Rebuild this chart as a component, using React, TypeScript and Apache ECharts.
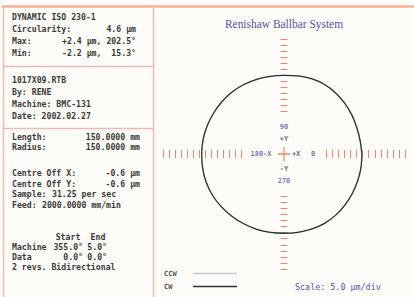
import React, { useEffect, useRef } from 'react';
import * as echarts from 'echarts';

// ---- data ----
const ANGLES = [0, 10, 20, 30, 40, 50, 60, 70, 80, 90, 100, 110, 120, 130, 140, 150, 160, 170, 180, 190, 200, 210, 220, 230, 240, 250, 260, 270, 280, 290, 300, 310, 320, 330, 340, 350, 360];
const CW_DEV = [-1.6, -2.1, -2.0, -1.3, -0.6, 0.1, 0.5, 0.2, -0.5, -1.0, -0.8, -0.3, 0.3, 0.8, 1.1, 1.3, 1.6, 1.9, 2.0, 2.2, 2.4, 2.2, 1.7, 1.1, 0.6, 0.2, -0.2, -0.5, -0.3, 0.1, 0.4, 0.2, -0.3, -0.8, -1.2, -1.4, -1.6];
const CCW_DEV = [-1.4, -1.9, -1.9, -1.2, -0.5, 0.0, 0.4, 0.3, -0.3, -0.9, -0.8, -0.2, 0.4, 0.7, 1.0, 1.2, 1.5, 1.8, 2.1, 2.1, 2.3, 2.1, 1.6, 1.0, 0.5, 0.1, -0.3, -0.4, -0.2, 0.2, 0.3, 0.1, -0.4, -0.9, -1.1, -1.3, -1.4];

const X_TICKS = [-20, -19, -18, -17, -16, -15, -14, -13, -12, -11, -10, -9, -8, -7, 7, 8, 9, 10, 11, 12, 13, 14, 15, 16, 17, 18, 19, 20];
const Y_TICKS = [-19, -18, -17, -16, -15, -14, -13, -12, -11, -10, -9, -8, -7, 7, 8, 9, 10, 11, 12, 13, 14, 15, 16, 17, 18, 19];

const AXIS_MARKS = [
  { text: '90', x: 0, y: 4.5, kind: 'deg' },
  { text: '+Y', x: 0, y: 2.5, kind: 'dir' },
  { text: '-Y', x: 0, y: -2.5, kind: 'dir' },
  { text: '270', x: 0, y: -4.4, kind: 'deg' },
  { text: '180-X', x: -3.8, y: 0, kind: 'deg' },
  { text: '+X', x: 2.0, y: 0, kind: 'dir' },
  { text: '0', x: 4.8, y: 0, kind: 'deg' },
];

const TITLE = 'Renishaw Ballbar System';
const SCALE_TEXT = 'Scale: 5.0 µm/div';
const SERIES_NAMES = ['CCW', 'CW'];

const SUMMARY_ROWS = [
  ['DYNAMIC ISO 230-1', ''],
  ['Circularity:', '4.6 µm'],
  ['Max:', '+2.4 µm, 202.5°'],
  ['Min:', '-2.2 µm,  15.3°'],
];
const FILE_ROWS = ['1017X09.RTB', 'By: RENE', 'Machine: BMC-131', 'Date: 2002.02.27'];
const SETUP_ROWS = [
  ['Length:', '150.0000 mm'],
  ['Radius:', '150.0000 mm'],
  ['Centre Off X:', '-0.6 µm'],
  ['Centre Off Y:', '-0.6 µm'],
];
const RUN_ROWS = [
  ['Sample:', '31.25 per sec'],
  ['Feed:', '2000.0000 mm/min'],
];
const ROTATION_HEAD = ['Start', 'End'];
const ROTATION_ROWS = [
  ['Machine', '355.0°', '5.0°'],
  ['Data', '0.0°', '0.0°'],
];
const REVS_TEXT = '2 revs. Bidirectional';

const MONO = '"DejaVu Sans Mono", monospace';
const TXT = '#3a3a3a';
const BLUE = '#5454a4';
const TICK = '#ea7252';

function txt(text: string, x: number, y: number, align = 'left', extra: any = {}) {
  return {
    type: 'text',
    x,
    y,
    silent: true,
    style: {
      text,
      fill: TXT,
      font: `bold 8.2px ${MONO}`,
      align,
      textAlign: align,
      verticalAlign: 'middle',
      textVerticalAlign: 'middle',
      ...extra,
    },
  };
}

export default function App() {
  const ref = useRef<HTMLDivElement>(null);

  useEffect(() => {
    if (!ref.current) return;
    const chart = echarts.init(ref.current, undefined, { renderer: 'svg' });

    const graphics: any[] = [];
    const frame = (x1: number, y1: number, x2: number, y2: number, color: string, w: number) => ({
      type: 'line', silent: true,
      shape: { x1, y1, x2, y2 },
      style: { stroke: color, lineWidth: w },
    });
    graphics.push(frame(2, 6.5, 414, 6.5, '#f3b394', 2.5));
    graphics.push(frame(3.5, 6, 3.5, 297, '#ebbcb2', 1.5));
    graphics.push(frame(153.5, 6, 153.5, 297, '#ebbcb2', 1.5));
    graphics.push(frame(3, 66.5, 154, 66.5, '#ebbcb2', 1.5));
    graphics.push(frame(3, 128.5, 154, 128.5, '#ebbcb2', 1.5));

    // left panel
    const s1y = [17, 29, 41, 53];
    SUMMARY_ROWS.forEach((r, i) => {
      graphics.push(txt(r[0], 12, s1y[i]));
      if (r[1]) graphics.push(txt(r[1], 136, s1y[i], 'right'));
    });
    const s2y = [80, 92, 104, 116];
    FILE_ROWS.forEach((r, i) => graphics.push(txt(r, 12, s2y[i])));
    const s3y = [137, 147, 173, 184];
    SETUP_ROWS.forEach((r, i) => {
      graphics.push(txt(r[0], 12, s3y[i]));
      graphics.push(txt(r[1], 140, s3y[i], 'right'));
    });
    const s4y = [194, 205];
    const s4x = [52, 42];
    RUN_ROWS.forEach((r, i) => {
      graphics.push(txt(r[0], 12, s4y[i]));
      graphics.push(txt(r[1], s4x[i], s4y[i]));
    });
    graphics.push(txt(ROTATION_HEAD[0], 68, 237, 'center'));
    graphics.push(txt(ROTATION_HEAD[1], 98, 237, 'center'));
    const s5y = [247, 257];
    ROTATION_ROWS.forEach((r, i) => {
      graphics.push(txt(r[0], 12, s5y[i]));
      graphics.push(txt(r[1], 83, s5y[i], 'right'));
      graphics.push(txt(r[2], 107, s5y[i], 'right'));
    });
    graphics.push(txt(REVS_TEXT, 12, 267));

    // title & scale
    graphics.push({
      type: 'text', x: 284, y: 24, scaleX: 0.88, silent: true,
      style: {
        text: TITLE, fill: BLUE, font: '13px "Liberation Serif", serif',
        align: 'center', textAlign: 'center', verticalAlign: 'middle', textVerticalAlign: 'middle',
      },
    });
    graphics.push({
      type: 'text', x: 295, y: 287, silent: true,
      style: {
        text: SCALE_TEXT, fill: BLUE, font: `8.4px ${MONO}`,
        align: 'left', textAlign: 'left', verticalAlign: 'middle', textVerticalAlign: 'middle',
      },
    });

    const xTickAxis = (position: string) => ({
      type: 'value', min: -20, max: 20, position, gridIndex: 0,
      axisLine: { show: false, onZero: true, onZeroAxisIndex: 0 },
      axisTick: { show: true, inside: false, length: 4, customValues: X_TICKS, lineStyle: { color: TICK, width: 1, opacity: 0.85 } },
      axisLabel: { show: false },
      splitLine: { show: false },
    });
    const yTickAxis = (position: string) => ({
      type: 'value', min: -19, max: 19, position, gridIndex: 0,
      axisLine: { show: false, onZero: true, onZeroAxisIndex: 0 },
      axisTick: { show: true, inside: false, length: 3.5, customValues: Y_TICKS, lineStyle: { color: TICK, width: 1, opacity: 0.85 } },
      axisLabel: { show: false },
      splitLine: { show: false },
    });

    const option: any = {
      animation: false,
      backgroundColor: '#fefcf8',
      graphic: graphics,
      grid: { left: 163, width: 242, top: 39, height: 230 },
      xAxis: [xTickAxis('bottom'), xTickAxis('top')],
      yAxis: [yTickAxis('left'), yTickAxis('right')],
      polar: { center: [284, 154], radius: 86 },
      angleAxis: {
        type: 'value', min: 0, max: 360, startAngle: 0, clockwise: false,
        axisLine: { show: false }, axisTick: { show: false }, axisLabel: { show: false }, splitLine: { show: false },
      },
      radiusAxis: {
        type: 'value', min: -65, max: 5,
        axisLine: { show: false }, axisTick: { show: false }, axisLabel: { show: false }, splitLine: { show: false },
      },
      legend: {
        data: SERIES_NAMES,
        orient: 'vertical',
        left: 164,
        top: 269,
        padding: 0,
        align: 'right',
        icon: 'rect',
        itemWidth: 44,
        itemHeight: 1.5,
        itemGap: 4,
        selectedMode: false,
        formatter: '{a|{name}}',
        textStyle: {
          fontFamily: MONO, fontSize: 7, fontWeight: 'bold', color: '#555', lineHeight: 9,
          rich: { a: { width: 24, align: 'left', fontFamily: MONO, fontSize: 7, fontWeight: 'bold', color: '#555', lineHeight: 9 } },
        },
      },
      series: [
        {
          name: SERIES_NAMES[0], type: 'line', coordinateSystem: 'polar',
          data: ANGLES.map((a, i) => [CCW_DEV[i], a]),
          symbol: 'none', smooth: 0.3,
          lineStyle: { color: '#c9c9c9', width: 1.2 },
          itemStyle: { color: '#c9c9c9' },
        },
        {
          name: SERIES_NAMES[1], type: 'line', coordinateSystem: 'polar',
          data: ANGLES.map((a, i) => [CW_DEV[i], a]),
          symbol: 'none', smooth: 0.3,
          lineStyle: { color: '#2c342c', width: 1.3 },
          itemStyle: { color: '#2c342c' },
        },
        {
          type: 'scatter', xAxisIndex: 0, yAxisIndex: 0, silent: true,
          data: [[0, 0]],
          symbol: 'path://M9,0H11V9H20V11H11V20H9V11H0V9H9Z',
          symbolSize: [12, 14],
          itemStyle: { color: '#ee6a35' },
          z: 3,
        },
        {
          type: 'scatter', xAxisIndex: 0, yAxisIndex: 0, silent: true,
          symbolSize: 1,
          itemStyle: { color: 'rgba(0,0,0,0)' },
          data: AXIS_MARKS.map((m) => ({
            value: [m.x, m.y], name: m.text,
            label: { color: m.kind === 'deg' ? BLUE : '#404060' },
          })),
          label: {
            show: true, position: 'inside', formatter: '{b}',
            fontFamily: MONO, fontSize: 7, fontWeight: 'bold',
          },
          z: 4,
        },
      ],
    };
    chart.setOption(option);
    return () => chart.dispose();
  }, []);

  return (
    <div
      ref={ref}
      style={{ position: 'fixed', left: 0, top: 0, width: 414, height: 297, background: '#fefcf8' }}
    />
  );
}
